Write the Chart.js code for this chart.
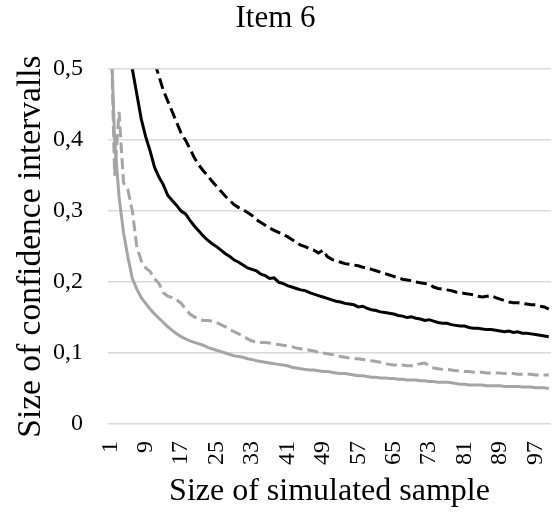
<!DOCTYPE html>
<html>
<head>
<meta charset="utf-8">
<script src="https://cdn.jsdelivr.net/npm/chart.js@4.4.0/dist/chart.umd.min.js"></script>
<style>
  body { margin: 0; background: #fff; }
  #wrap { width: 553px; height: 515px; }
</style>
</head>
<body>
<div id="wrap"><canvas id="ciChart" width="553" height="515"></canvas></div>
<script>
// sample sizes 1..100
const sampleSizes = [
  1, 2, 3, 4, 5, 6, 7, 8, 9, 10, 11, 12, 13, 14, 15, 16, 17, 18, 19, 20,
  21, 22, 23, 24, 25, 26, 27, 28, 29, 30, 31, 32, 33, 34, 35, 36, 37, 38, 39, 40,
  41, 42, 43, 44, 45, 46, 47, 48, 49, 50, 51, 52, 53, 54, 55, 56, 57, 58, 59, 60,
  61, 62, 63, 64, 65, 66, 67, 68, 69, 70, 71, 72, 73, 74, 75, 76, 77, 78, 79, 80,
  81, 82, 83, 84, 85, 86, 87, 88, 89, 90, 91, 92, 93, 94, 95, 96, 97, 98, 99, 100
];
const xTickLabels = ['1', '9', '17', '25', '33', '41', '49', '57', '65', '73', '81', '89', '97'];
const yTickLabels = ['0', '0,1', '0,2', '0,3', '0,4', '0,5'];

const blackDashed = [
  1.70, 1.20, 0.98, 0.85, 0.76, 0.69, 0.64, 0.60, 0.565, 0.535,
  0.51, 0.49, 0.47, 0.455, 0.44, 0.425, 0.41, 0.40, 0.388, 0.375,
  0.365, 0.357, 0.350, 0.342, 0.335, 0.328, 0.321, 0.315, 0.309, 0.305,
  0.302, 0.298, 0.294, 0.288, 0.284, 0.280, 0.276, 0.273, 0.270, 0.267,
  0.264, 0.260, 0.256, 0.252, 0.250, 0.247, 0.245, 0.241, 0.245, 0.236,
  0.232, 0.230, 0.228, 0.226, 0.225, 0.224, 0.223, 0.221, 0.220, 0.218,
  0.216, 0.214, 0.212, 0.210, 0.208, 0.206, 0.204, 0.203, 0.202, 0.200,
  0.199, 0.198, 0.197, 0.193, 0.191, 0.190, 0.189, 0.188, 0.186, 0.185,
  0.184, 0.183, 0.182, 0.180, 0.179, 0.180, 0.181, 0.178, 0.176, 0.174,
  0.172, 0.171, 0.171, 0.170, 0.169, 0.168, 0.168, 0.166, 0.165, 0.162
];
const blackSolid = [
  1.20, 0.86, 0.70, 0.61, 0.55, 0.50, 0.465, 0.43, 0.405, 0.385,
  0.362, 0.348, 0.337, 0.322, 0.315, 0.308, 0.300, 0.296, 0.287, 0.279,
  0.272, 0.265, 0.259, 0.254, 0.250, 0.245, 0.240, 0.236, 0.231, 0.228,
  0.224, 0.220, 0.218, 0.216, 0.211, 0.209, 0.205, 0.206, 0.200, 0.198,
  0.195, 0.193, 0.191, 0.189, 0.188, 0.185, 0.183, 0.181, 0.179, 0.177,
  0.175, 0.173, 0.172, 0.170, 0.169, 0.168, 0.165, 0.166, 0.163, 0.161,
  0.160, 0.158, 0.157, 0.156, 0.155, 0.153, 0.152, 0.150, 0.151, 0.149,
  0.148, 0.146, 0.147, 0.145, 0.143, 0.142, 0.142, 0.140, 0.139, 0.138,
  0.138, 0.136, 0.135, 0.135, 0.134, 0.133, 0.133, 0.132, 0.131, 0.130,
  0.131, 0.129, 0.130, 0.128, 0.128, 0.127, 0.126, 0.125, 0.124, 0.123
];
const grayDashed = [
  0.60, 0.35, 0.44, 0.34, 0.33, 0.30, 0.25, 0.23, 0.22, 0.215,
  0.205, 0.198, 0.185, 0.180, 0.178, 0.175, 0.170, 0.162, 0.155, 0.151,
  0.148, 0.146, 0.146, 0.145, 0.143, 0.140, 0.137, 0.133, 0.130, 0.127,
  0.124, 0.120, 0.117, 0.116, 0.115, 0.115, 0.114, 0.113, 0.112, 0.111,
  0.110, 0.109, 0.107, 0.106, 0.105, 0.104, 0.103, 0.101, 0.100, 0.099,
  0.098, 0.097, 0.095, 0.094, 0.093, 0.092, 0.092, 0.091, 0.090, 0.089,
  0.088, 0.087, 0.085, 0.084, 0.083, 0.083, 0.083, 0.082, 0.082, 0.083,
  0.085, 0.086, 0.082, 0.079, 0.078, 0.077, 0.077, 0.076, 0.075, 0.075,
  0.074, 0.074, 0.073, 0.073, 0.073, 0.072, 0.072, 0.072, 0.072, 0.071,
  0.071, 0.071, 0.070, 0.070, 0.070, 0.070, 0.069, 0.069, 0.069, 0.069
];
const graySolid = [
  0.58, 0.40, 0.32, 0.27, 0.235, 0.205, 0.190, 0.178, 0.170, 0.162,
  0.155, 0.149, 0.143, 0.137, 0.132, 0.127, 0.123, 0.120, 0.117, 0.115,
  0.113, 0.111, 0.108, 0.106, 0.104, 0.102, 0.100, 0.098, 0.096, 0.095,
  0.094, 0.092, 0.091, 0.089, 0.088, 0.087, 0.086, 0.085, 0.084, 0.083,
  0.082, 0.080, 0.079, 0.078, 0.077, 0.076, 0.076, 0.075, 0.074, 0.074,
  0.073, 0.072, 0.071, 0.071, 0.070, 0.069, 0.068, 0.068, 0.067, 0.066,
  0.066, 0.065, 0.065, 0.064, 0.064, 0.063, 0.063, 0.062, 0.062, 0.062,
  0.061, 0.061, 0.060, 0.060, 0.059, 0.059, 0.059, 0.058, 0.057, 0.056,
  0.056, 0.055, 0.055, 0.055, 0.055, 0.054, 0.054, 0.054, 0.054, 0.053,
  0.053, 0.053, 0.053, 0.052, 0.052, 0.052, 0.051, 0.051, 0.051, 0.050
];

const serif = "'Liberation Serif', 'Times New Roman', serif";
const black = '#000000';
const gray = '#a5a5a5';

function line(data, color, dashed) {
  return {
    data: data,
    borderColor: color,
    borderWidth: 3,
    borderDash: dashed ? [11, 5] : [],
    pointRadius: 0,
    tension: 0,
    fill: false
  };
}

const ctx = document.getElementById('ciChart').getContext('2d');
new Chart(ctx, {
  type: 'line',
  data: {
    labels: sampleSizes,
    datasets: [
      line(graySolid, gray, false),
      line(grayDashed, gray, true),
      line(blackSolid, black, false),
      line(blackDashed, black, true)
    ]
  },
  options: {
    responsive: false,
    animation: false,
    layout: { padding: { left: 0, right: 2, top: 0, bottom: 0 } },
    plugins: {
      legend: { display: false },
      tooltip: { enabled: false },
      title: {
        display: true,
        text: 'Item 6',
        color: black,
        font: { family: serif, size: 31, weight: 'normal' },
        padding: { top: 0, bottom: 32 }
      }
    },
    scales: {
      x: {
        type: 'category',
        offset: true,
        grid: { display: false, drawTicks: false },
        border: { display: false },
        ticks: {
          autoSkip: false,
          minRotation: 90,
          maxRotation: 90,
          padding: 17,
          color: black,
          font: { family: serif, size: 24 },
          callback: function (val, i) {
            const lbl = String(sampleSizes[i]);
            return xTickLabels.includes(lbl) ? lbl : '';
          }
        },
        title: {
          display: true,
          text: 'Size of simulated sample',
          color: black,
          font: { family: serif, size: 32 },
          padding: { top: 0, bottom: 4 }
        },
        afterFit: function (scale) {
          scale.height = 91;
          scale.paddingLeft = 0;
          scale.paddingRight = 0;
        }
      },
      y: {
        min: 0,
        max: 0.5,
        grid: { color: '#d9d9d9', lineWidth: 1.5, drawTicks: false },
        border: { display: false },
        ticks: {
          stepSize: 0.1,
          padding: 25,
          color: black,
          font: { family: serif, size: 24 },
          callback: function (val, i) { return yTickLabels[i]; }
        },
        title: {
          display: true,
          text: 'Size of confidence intervalls',
          color: black,
          font: { family: serif, size: 33.5 },
          padding: { top: 11, bottom: 0 }
        },
        afterFit: function (scale) {
          scale.width = 108;
          scale.paddingTop = 0;
          scale.paddingBottom = 0;
        }
      }
    }
  }
});
</script>
</body>
</html>
